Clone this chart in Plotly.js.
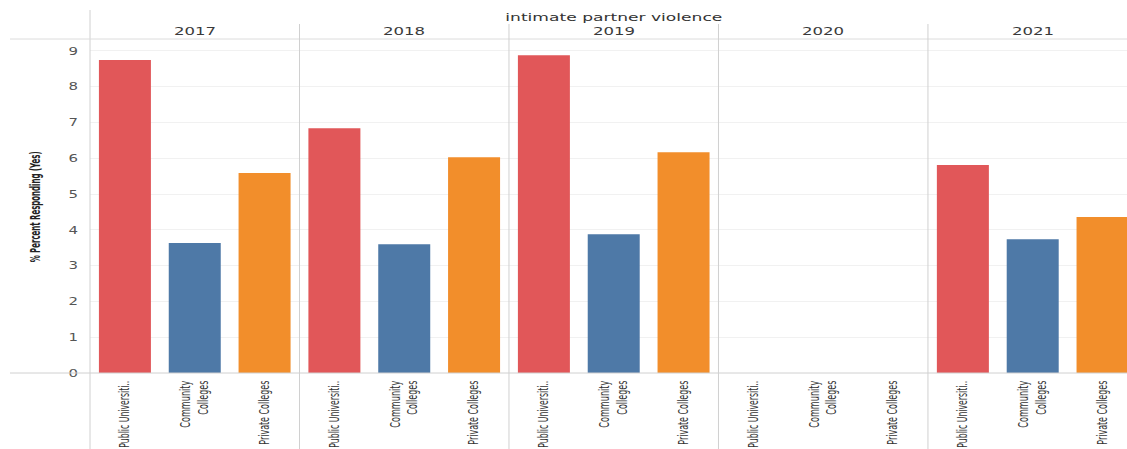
<!DOCTYPE html>
<html><head><meta charset="utf-8">
<script src="https://cdn.plot.ly/plotly-3.0.1.min.js"></script>
<style>
html,body{margin:0;padding:0;background:#fff;overflow:hidden;}
#chart{width:1127px;height:449px;}
</style>
</head><body><div id="chart"></div>
<script>
// ---- data ----
const years = ['2017', '2018', '2019', '2020', '2021'];
const categories = ['Public Universiti..', 'Community<br>Colleges', 'Private Colleges'];
const publicUniversities = [8.75, 6.84, 8.88, null, 5.81];
const communityColleges = [3.63, 3.60, 3.88, null, 3.74];
const privateColleges = [5.59, 6.03, 6.17, null, 4.36];
const seriesValues = [publicUniversities, communityColleges, privateColleges];
const seriesColors = ['#E15759', '#4E79A7', '#F28E2B'];
const yTicks = [0, 1, 2, 3, 4, 5, 6, 7, 8, 9];
const chartTitle = 'intimate partner violence';
const yTitle = '% Percent Responding (Yes)';

// ---- layout constants ----
const W = 1127, H = 449;
const mL = 90, mR = 0, mT = 39, mB = 76;
const slotPx = 69.83;
const plotW = W - mL - mR, plotH = H - mT - mB;
const nCat = categories.length;
const xRange = [-0.5, -0.5 + plotW / slotPx];
const yRange = [0, 9.335];
const barW = 52 / slotPx;
const pxToPaperY = py => (H - mB - py) / plotH;
const pxToPaperX = px => (px - mL) / plotW;
// rendered text lengths (px) to mimic the stretched look of the original
const textLengths = {title: 217, year: 42, ytick: 9.5, ytitle: 111,
  xlabel: {'Public Universiti..': 67, 'Community': 47, 'Colleges': 34, 'Private Colleges': 64}};

const traces = categories.map((cat, ci) => ({
  type: 'bar',
  name: cat,
  x: years.map((y, yi) => yi * nCat + ci),
  y: seriesValues[ci],
  width: barW,
  marker: {color: seriesColors[ci], line: {width: 0}},
  hoverinfo: 'y'
}));

const tickvals = [], ticktext = [];
years.forEach((y, yi) => categories.forEach((c, ci) => { tickvals.push(yi * nCat + ci); ticktext.push(c); }));

const gridCol = '#d0d0d0';
const shapes = [];
shapes.push({type: 'line', xref: 'paper', yref: 'paper', x0: 0, x1: 0, y0: pxToPaperY(10), y1: pxToPaperY(H), line: {color: gridCol, width: 1}});
shapes.push({type: 'line', xref: 'paper', yref: 'paper', x0: pxToPaperX(10), x1: 1, y0: 1, y1: 1, line: {color: '#dcdcdc', width: 1}});
shapes.push({type: 'line', xref: 'paper', yref: 'paper', x0: pxToPaperX(10), x1: 1, y0: 0, y1: 0, line: {color: gridCol, width: 1}});
for (let yi = 1; yi < years.length; yi++) {
  shapes.push({type: 'line', xref: 'x', yref: 'paper', x0: yi * nCat - 0.5, x1: yi * nCat - 0.5, y0: pxToPaperY(24), y1: pxToPaperY(H), line: {color: gridCol, width: 1}});
}

const annotations = [{
  text: chartTitle, xref: 'paper', yref: 'paper', x: pxToPaperX(90 + slotPx * 7.5), y: pxToPaperY(17),
  xanchor: 'center', yanchor: 'middle', showarrow: false,
  font: {family: 'DejaVu Sans', size: 11, color: '#333'}
}];
years.forEach((y, yi) => annotations.push({
  text: y, xref: 'x', yref: 'paper', x: yi * nCat + 1, y: pxToPaperY(31.5),
  xanchor: 'center', yanchor: 'middle', showarrow: false,
  font: {family: 'DejaVu Sans', size: 11, color: '#3a3a3a'}
}));
annotations.push({
  text: yTitle, xref: 'paper', yref: 'paper', x: pxToPaperX(35), y: pxToPaperY(207),
  xanchor: 'center', yanchor: 'middle', showarrow: false, textangle: -90,
  font: {family: 'DejaVu Sans', size: 14, color: '#222', weight: 'bold'}
});

const layout = {
  width: W, height: H,
  margin: {l: mL, r: mR, t: mT, b: mB, pad: 0},
  paper_bgcolor: '#fff', plot_bgcolor: '#fff',
  showlegend: false,
  barmode: 'overlay',
  xaxis: {
    range: xRange, tickmode: 'array', tickvals: tickvals, ticktext: ticktext,
    tickangle: -90, showgrid: false, zeroline: false, showline: false, ticks: '',
    ticklabelstandoff: 4,
    tickfont: {family: 'DejaVu Sans', size: 13.5, color: '#333'},
    fixedrange: true
  },
  yaxis: {
    range: yRange, tickmode: 'array', tickvals: yTicks, ticktext: yTicks.map(String),
    showgrid: true, gridcolor: '#f1f1f1', gridwidth: 1, zeroline: false, showline: false, ticks: '',
    ticklabelstandoff: 11,
    tickfont: {family: 'DejaVu Sans', size: 10.5, color: '#555'},
    fixedrange: true
  },
  shapes: shapes,
  annotations: annotations
};

function fitText(el, target) {
  if (!el || !target) return;
  el.setAttribute('textLength', target);
  el.setAttribute('lengthAdjust', 'spacingAndGlyphs');
}

Plotly.newPlot('chart', traces, layout, {displayModeBar: false, staticPlot: true}).then(gd => {
  const annTexts = gd.querySelectorAll('.annotation .annotation-text');
  annTexts.forEach((t, i) => {
    if (i === 0) fitText(t, textLengths.title);
    else if (i <= years.length) fitText(t, textLengths.year);
    else fitText(t, textLengths.ytitle);
  });
  gd.querySelectorAll('.ytick text').forEach(t => fitText(t, textLengths.ytick));
  gd.querySelectorAll('.xtick text').forEach(t => {
    const lines = t.querySelectorAll('tspan.line');
    if (lines.length) lines.forEach(s => fitText(s, textLengths.xlabel[s.textContent]));
    else fitText(t, textLengths.xlabel[t.textContent]);
  });
});
</script>
</body></html>
